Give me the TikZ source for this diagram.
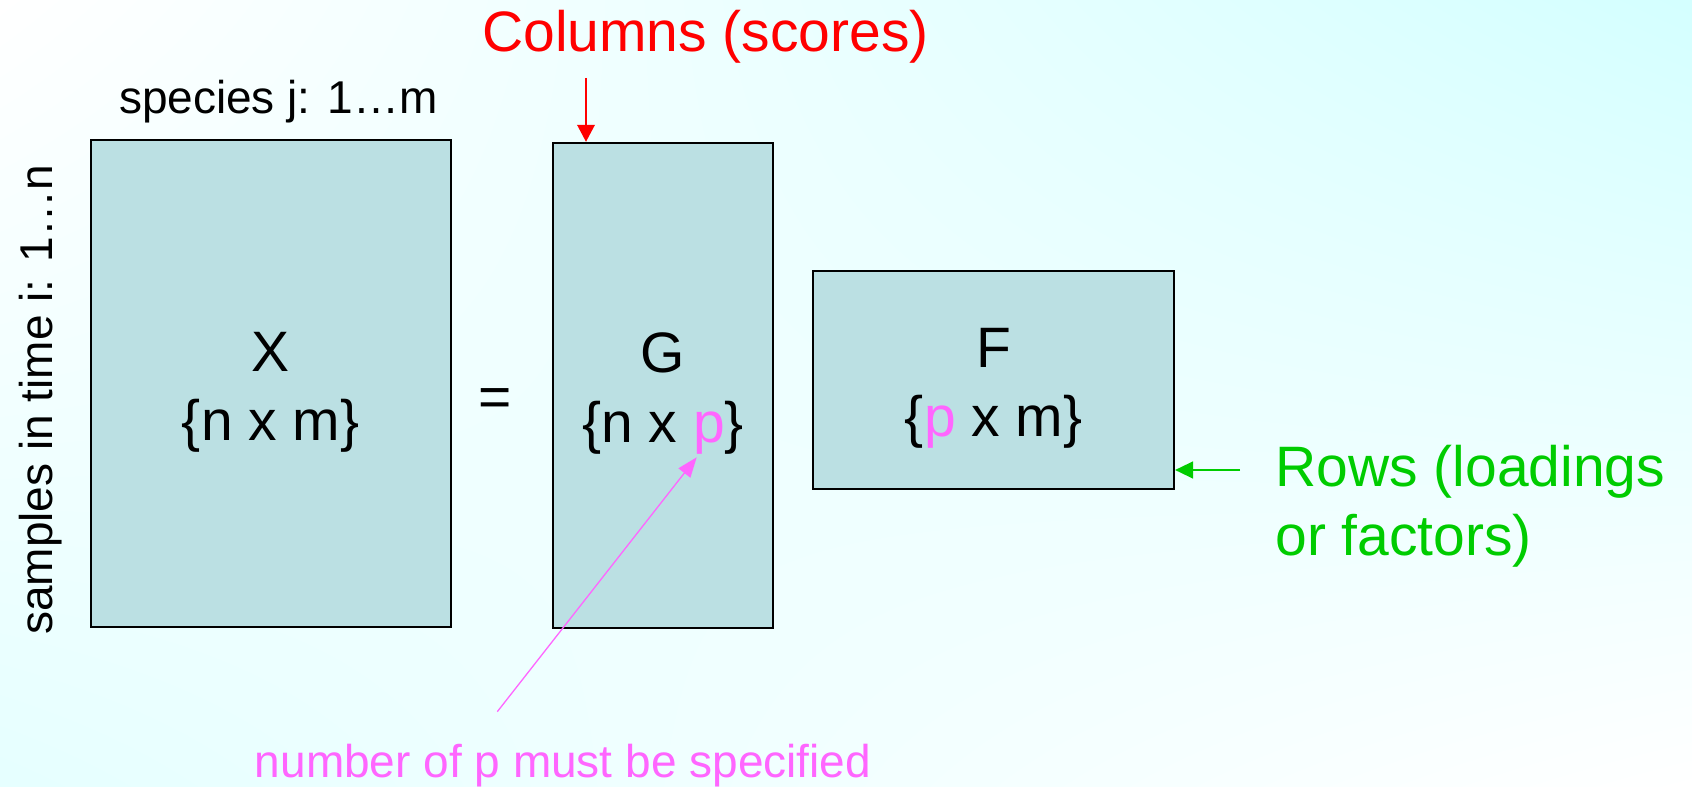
\documentclass[tikz,border=0pt]{standalone}
\usepackage{fontspec}
\setmainfont{Liberation Sans}
\usetikzlibrary{arrows.meta, positioning, calc, shadings}
\definecolor{matfill}{RGB}{187,224,227}
\definecolor{pmagenta}{RGB}{255,102,255}
\definecolor{colred}{RGB}{255,0,0}
\definecolor{rowgreen}{RGB}{0,204,0}
\newcommand{\boxstrut}{\rule{0pt}{28pt}}
\tikzset{
  bigtext/.style={
    inner sep=0pt, font=\fontsize{28.5}{34.75}\selectfont
  },
  smalltext/.style={
    inner sep=0pt, font=\fontsize{23}{27.6}\selectfont
  },
  matbox/.style={
    rectangle, draw=black, line width=1pt, fill=matfill,
    align=center, bigtext
  },
  redarrow/.style={-{Triangle[length=8.5pt,width=8.8pt]}, line width=0.85pt, draw=colred},
  greenarrow/.style={-{Triangle[length=9pt,width=8.5pt]}, line width=0.75pt, draw=rowgreen},
  pinkarrow/.style={-{Triangle[length=10pt,width=7.5pt]}, line width=0.65pt, draw=pmagenta}
}

\begin{document}
\begin{tikzpicture}[x=0.5pt, y=0.5pt]

% slide background
\shade[upper left=white, upper right=cyan!17, lower left=cyan!10, lower right=white]
  (0,0) rectangle (1692,787);
\useasboundingbox (0,0) rectangle (1692,787);

% matrices
\node[matbox, minimum width=180pt, minimum height=243.4pt]
  (xbox) at (270.7,403.3) {\boxstrut X\\\{n x m\}};
\node[matbox, minimum width=109.8pt, minimum height=242.5pt]
  (gbox) at (663,401.7) {\boxstrut G\\\{n x \textcolor{pmagenta}{p}\}};
\node[matbox, minimum width=180.4pt, minimum height=109.2pt]
  (fbox) at (993.7,407.1) {\boxstrut F\\\{\textcolor{pmagenta}{p} x m\}};
\node[bigtext, anchor=base] (eq) at (495.3,370) {=};

% axis labels
\node[smalltext, anchor=base] (species) at (278.4,673) {species j: 1…m};
\node[smalltext, anchor=base, rotate=90] (samples) at (53,387) {samples in time i: 1…n};

% columns
\node[bigtext, text=colred, anchor=base] (cols) at (705.5,735.3) {Columns (scores)};
\coordinate (ctail) at (586,709);
\draw[redarrow] (ctail) -- (ctail |- gbox.north);

% rows
\node[bigtext, text=rowgreen, align=left, anchor=north west]
  (rows) at (1275,342.3) {Rows (loadings\\or factors)};
\coordinate (rtail) at (1240,317);
\draw[greenarrow] (rtail) -- (rtail -| fbox.east);

% number of p
\node[smalltext, text=pmagenta, anchor=base] (note) at (563,10) {number of p must be specified};
\coordinate (ptail) at (497.3,75.3);
\coordinate (ptip) at (696.7,329.7);
\draw[pinkarrow] (ptail) -- (ptip);

\end{tikzpicture}
\end{document}
